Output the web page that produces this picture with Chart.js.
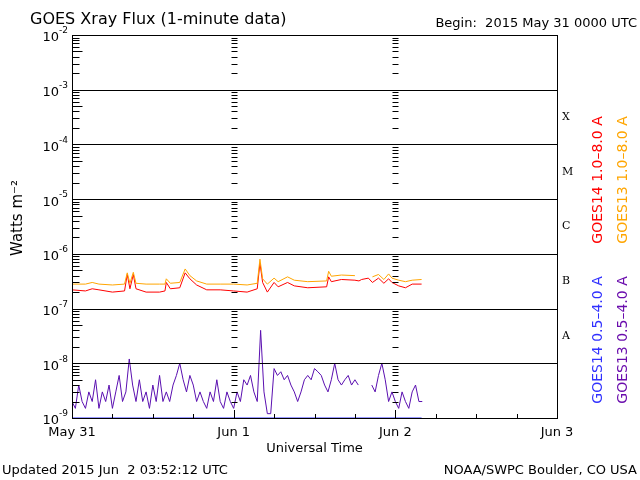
<!DOCTYPE html>
<html>
<head>
<meta charset="utf-8">
<script src="https://cdn.jsdelivr.net/npm/chart.js@4/dist/chart.umd.min.js"></script>
<style>
  html, body { margin: 0; padding: 0; background: #fff; }
  #wrap { width: 640px; height: 480px; position: relative; }
</style>
</head>
<body>
<div id="wrap"><canvas id="xray" width="640" height="480"></canvas></div>
<script>
// hours since 2015 May 31 00:00 UTC
const longHours = [0, 2, 3, 4, 6, 7.8, 8.2, 8.6, 9.1, 9.5, 11, 13, 13.8, 14, 14.6, 16, 16.8, 17.5, 18.5, 20, 22, 24, 26, 27.5, 27.9, 28.3, 29, 30, 30.6, 32, 33, 35, 37.8, 38.1, 38.5, 40, 42, 42.6, 43, 44, 44.6, 45.5, 46.3, 47, 47.5, 48.5, 49.5, 50.5, 51.9];
// long channel 1.0-8.0 A, units of 1e-7 W/m2
const goes14Long = [2.2, 2.1, 2.3, 2.2, 2.0, 2.1, 4.2, 2.3, 4.2, 2.3, 2.0, 2.0, 2.1, 3.0, 2.3, 2.4, 4.5, 3.5, 2.7, 2.2, 2.2, 2.1, 2.0, 2.3, 6.8, 3.0, 2.0, 3.0, 2.5, 3.0, 2.6, 2.4, 2.5, 3.8, 3.1, 3.4, 3.3, 3.2, 3.4, 3.6, 3.0, 3.6, 2.9, 3.5, 3.0, 2.6, 2.4, 2.8, 2.8];
const goes13Long = [2.8, 2.8, 3.0, 2.8, 2.7, 2.8, 4.5, 2.9, 4.6, 2.9, 2.8, 2.8, 2.8, 3.5, 2.9, 3.0, 5.3, 4.0, 3.2, 2.8, 2.8, 2.8, 2.7, 2.9, 8.0, 3.5, 2.8, 3.6, 3.1, 3.8, 3.3, 3.1, 3.2, 4.8, 3.9, 4.1, 4.0, null, null, null, 3.8, 4.2, 3.4, 4.3, 3.6, 3.3, 3.1, 3.3, 3.4];

// short channel 0.5-4.0 A, every half hour from 0 to 52, units of 1e-9 W/m2
const goes13Short = [
  2, 1.5, 4, 2, 1.5, 3, 2, 5, 1.5, 3,
  2, 4, 1.5, 3, 6, 2, 3, 12, 4, 2,
  5, 2, 3, 1.5, 4, 2, 6, 2, 3, 2,
  4, 6, 10, 5, 3, 6, 4, 2, 3, 2,
  1.5, 3, 2, 5, 2, 1.5, 3, 2, 1.5, 3,
  2, 5, 4, 6, 3, 2, 40, 3, 1.2, 1.2,
  8, 6, 7, 5, 6, 4, 3, 2, 3, 5,
  6, 5, 8, 7, 6, 4, 3, 5, 10, 5,
  4, 5, 6, 4, 5, 4, null, null, null, 4,
  3, 6, 10, 5, 2, 3, 2, 1.5, 3, 2,
  1.5, 3, 4, 2, 2
];
const goes14ShortHours = [0, 51.9];
const goes14Short = [1, 1];

const dayTicks = [0, 24, 48, 72];
const dayLabels = ['May 31', 'Jun 1', 'Jun 2', 'Jun 3'];
const decades = [-9, -8, -7, -6, -5, -4, -3, -2];
const classLetters = [['A', -7.5], ['B', -6.5], ['C', -5.5], ['M', -4.5], ['X', -3.5]];

const pts = (hours, vals, unit) => hours.map((h, i) => ({ x: h, y: vals[i] == null ? null : vals[i] * unit }));
const shortPts = goes13Short.map((v, i) => ({ x: i * 0.5, y: v == null ? null : v * 1e-9 }));

const line = (label, data, color) => ({
  label, data, borderColor: color, borderWidth: 1, pointRadius: 0, spanGaps: false, tension: 0
});

const decor = {
  id: 'decor',
  afterDraw(chart) {
    const { ctx, chartArea: a, scales: { x, y } } = chart;
    ctx.save();
    ctx.strokeStyle = '#000';
    ctx.lineWidth = 1;
    // decade lines
    decades.forEach(d => {
      const py = Math.round(y.getPixelForValue(Math.pow(10, d))) + 0.5;
      ctx.beginPath(); ctx.moveTo(a.left, py); ctx.lineTo(a.right, py); ctx.stroke();
    });
    // minor tick ladders on left edge and at day lines
    [0, 24, 48].forEach(h => {
      const px = Math.round(x.getPixelForValue(h)) + 0.5;
      decades.slice(0, -1).forEach(d => {
        for (let m = 2; m <= 9; m++) {
          const py = Math.round(y.getPixelForValue(m * Math.pow(10, d))) + 0.5;
          const len = m === 5 ? 10 : 7;
          ctx.beginPath();
          if (h === 0) { ctx.moveTo(px, py); ctx.lineTo(px + len, py); }
          else { ctx.moveTo(px - 3, py); ctx.lineTo(px + 3, py); }
          ctx.stroke();
        }
      });
    });
    // x ticks
    for (let h = 0; h <= 72; h += 6) {
      const px = Math.round(x.getPixelForValue(h)) + 0.5;
      const len = h % 24 === 0 ? 8 : 4;
      ctx.beginPath(); ctx.moveTo(px, a.bottom); ctx.lineTo(px, a.bottom - len); ctx.stroke();
    }
    ctx.strokeRect(a.left + 0.5, a.top + 0.5, a.right - a.left, a.bottom - a.top);

    ctx.fillStyle = '#000';
    // y labels 10^n
    decades.forEach(d => {
      const py = y.getPixelForValue(Math.pow(10, d));
      ctx.textAlign = 'right'; ctx.textBaseline = 'middle';
      ctx.font = '13px "DejaVu Sans"';
      ctx.fillText('10', a.left - 13, py + 3);
      ctx.font = '9px "DejaVu Sans"';
      ctx.textAlign = 'left';
      ctx.fillText(String(d), a.left - 13, py - 4);
    });
    // x labels
    ctx.font = '13px "DejaVu Sans"';
    ctx.textAlign = 'center'; ctx.textBaseline = 'top';
    dayTicks.forEach((h, i) => ctx.fillText(dayLabels[i], x.getPixelForValue(h), a.bottom + 8));
    ctx.fillText('Universal Time', (a.left + a.right) / 2, a.bottom + 24);
    // flare classes
    ctx.font = '11px "DejaVu Serif"';
    ctx.textAlign = 'left'; ctx.textBaseline = 'middle';
    classLetters.forEach(([c, d]) => ctx.fillText(c, a.right + 5, y.getPixelForValue(Math.pow(10, d))));
    // titles
    ctx.font = '16px "DejaVu Sans"';
    ctx.textBaseline = 'alphabetic';
    ctx.fillText('GOES Xray Flux (1-minute data)', 30, 24);
    ctx.font = '13px "DejaVu Sans"';
    ctx.textAlign = 'right';
    ctx.fillText('Begin:  2015 May 31 0000 UTC', 637, 27);
    ctx.fillText('NOAA/SWPC Boulder, CO USA', 637, 474);
    ctx.textAlign = 'left';
    ctx.fillText('Updated 2015 Jun  2 03:52:12 UTC', 2, 474);
    // rotated labels
    const vtext = (t, px, py, color, size) => {
      ctx.save(); ctx.translate(px, py); ctx.rotate(-Math.PI / 2);
      ctx.fillStyle = color; ctx.font = size + 'px "DejaVu Sans"';
      ctx.textAlign = 'center'; ctx.textBaseline = 'middle';
      ctx.fillText(t, 0, 0); ctx.restore();
    };
    vtext('Watts m\u207B\u00B2', 18, 218, '#000', 15);
    vtext('GOES14 1.0\u20138.0 A', 598, 180, '#ff0000', 14);
    vtext('GOES13 1.0\u20138.0 A', 623, 180, '#ffa500', 14);
    vtext('GOES14 0.5\u20134.0 A', 598, 340, '#3030ff', 14);
    vtext('GOES13 0.5\u20134.0 A', 623, 340, '#6a0dad', 14);
    ctx.restore();
  }
};

new Chart(document.getElementById('xray'), {
  type: 'line',
  data: {
    datasets: [
      line('GOES14 0.5-4.0 A', pts(goes14ShortHours, goes14Short, 1e-9), '#3030ff'),
      line('GOES13 0.5-4.0 A', shortPts, '#5a0fb0'),
      line('GOES13 1.0-8.0 A', pts(longHours, goes13Long, 1e-7), '#ffa500'),
      line('GOES14 1.0-8.0 A', pts(longHours, goes14Long, 1e-7), '#ff0000')
    ]
  },
  options: {
    responsive: false,
    animation: false,
    devicePixelRatio: 1,
    layout: { padding: { left: 72, right: 83, top: 35, bottom: 62 } },
    plugins: { legend: { display: false }, tooltip: { enabled: false } },
    scales: {
      x: { type: 'linear', min: 0, max: 72, display: false },
      y: { type: 'logarithmic', min: 1e-9, max: 1e-2, display: false }
    }
  },
  plugins: [decor]
});
</script>
</body>
</html>
